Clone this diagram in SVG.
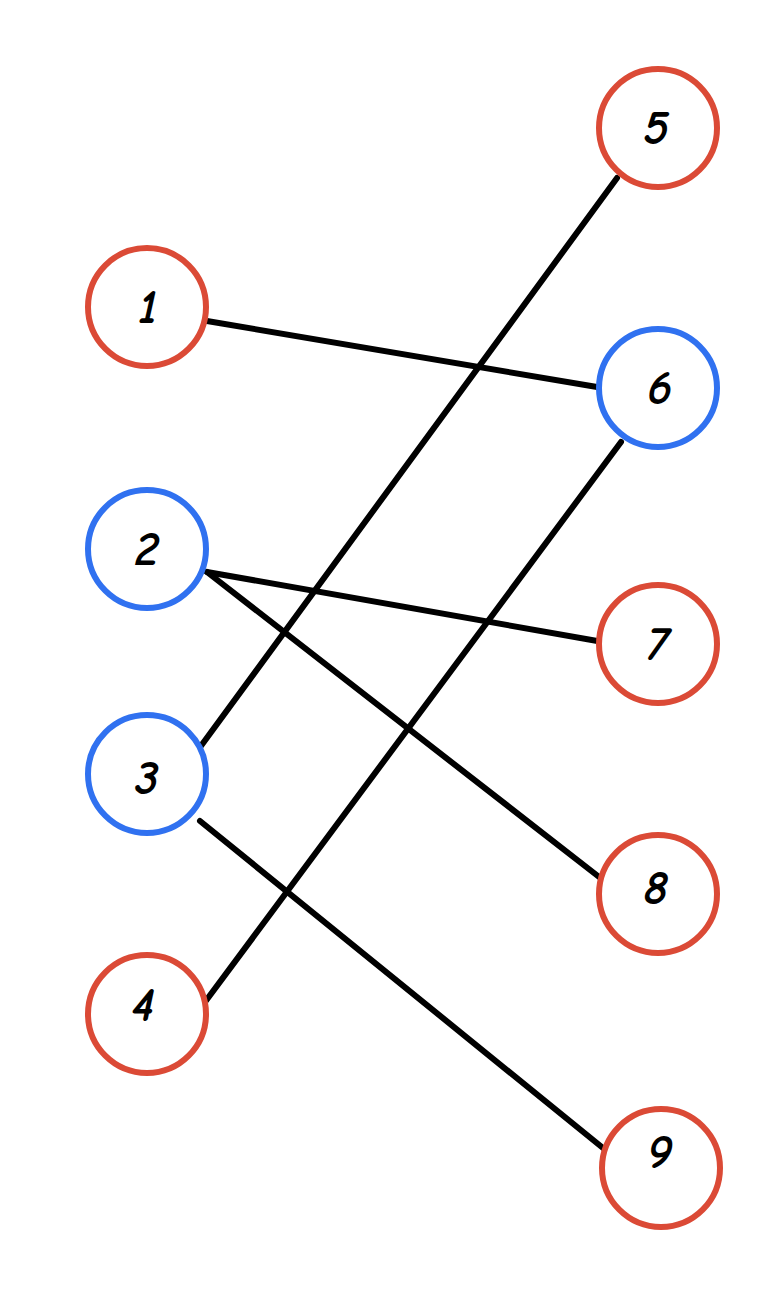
<svg xmlns="http://www.w3.org/2000/svg" width="781" height="1308" viewBox="0 0 781 1308">
<style>
.n circle{fill:#fff;stroke-width:6}
.r circle{stroke:#db4a36}
.b circle{stroke:#3071f0}
.n text{font-family:"Comic Neue","Liberation Sans",sans-serif;font-weight:bold;font-size:48px;fill:#000;text-anchor:middle;dominant-baseline:central;font-style:italic}
#edges line{stroke:#000;stroke-width:6;stroke-linecap:round}
</style>
<rect width="781" height="1308" fill="#fff"/>
<g id="edges">
<line x1="207" y1="321" x2="603" y2="388"/>
<line x1="617" y1="178" x2="198" y2="750"/>
<line x1="621" y1="442" x2="205" y2="1002"/>
<line x1="207" y1="572" x2="603" y2="642"/>
<line x1="207" y1="572" x2="603" y2="880"/>
<line x1="200" y1="821" x2="603" y2="1148"/>
</g>
<g id="node1" class="n r"><circle cx="147" cy="307" r="59"/><text x="148" y="307">1</text></g>
<g id="node2" class="n b"><circle cx="147" cy="549" r="59"/><text x="147" y="549">2</text></g>
<g id="node3" class="n b"><circle cx="147" cy="774" r="59"/><text x="147" y="778">3</text></g>
<g id="node4" class="n r"><circle cx="147" cy="1014" r="59"/><text x="143" y="1005">4</text></g>
<g id="node5" class="n r"><circle cx="658" cy="128" r="59"/><text x="656" y="128">5</text></g>
<g id="node6" class="n b"><circle cx="658" cy="388" r="59"/><text x="660" y="388">6</text></g>
<g id="node7" class="n r"><circle cx="658" cy="644" r="59"/><text x="658" y="644">7</text></g>
<g id="node8" class="n r"><circle cx="658" cy="894" r="59"/><text x="656" y="888">8</text></g>
<g id="node9" class="n r"><circle cx="661" cy="1168" r="59"/><text x="660" y="1152">9</text></g>
</svg>
